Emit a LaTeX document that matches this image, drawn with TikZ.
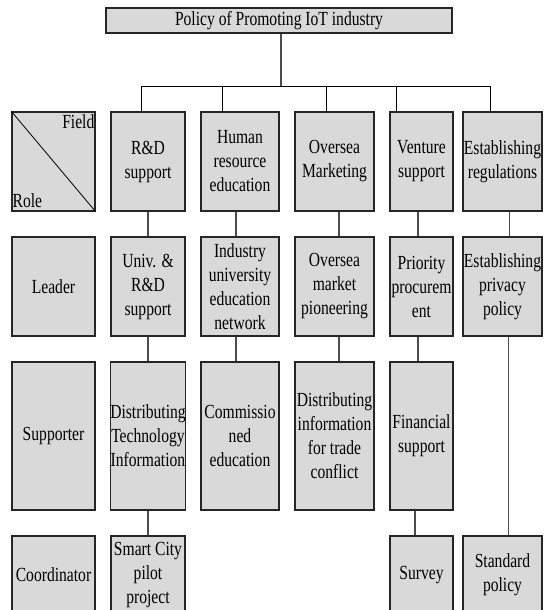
\documentclass[tikz,border=0pt]{standalone}
\usepackage{fontspec}
\setmainfont[FakeStretch=0.78]{Liberation Serif}
\begin{document}
\begin{tikzpicture}[x=1pt,y=-1pt,
  box/.style={draw=black!85, line width=1.1pt, fill=boxgray, inner sep=0pt, align=center,
    font=\fontsize{20}{24}\selectfont},
  bus/.style={draw=black, line width=0.8pt},
  link/.style={draw=black!70, line width=1.3pt},
  lbl/.style={inner sep=0pt, font=\fontsize{20}{24}\selectfont}]
\definecolor{boxgray}{RGB}{217,217,217}
\useasboundingbox (0,0) rectangle (548,610);
\clip (0,0) rectangle (548,610);
% top
\node[box, minimum width=346pt, minimum height=25pt] (top) at (279,20.5) {Policy of Promoting IoT industry};
% row 1 (y 112-211)
\node[box, minimum width=83pt, minimum height=99pt] (role) at (53.5,161.5) {};
\node[box, minimum width=74pt, minimum height=99pt] (r1a) at (148,161.5) {R\&D\\support};
\node[box, minimum width=78pt, minimum height=99pt] (r1b) at (240,161.5) {Human\\resource\\education};
\node[box, minimum width=79pt, minimum height=99pt] (r1c) at (334.5,161.5) {Oversea\\Marketing};
\node[box, minimum width=63pt, minimum height=99pt] (r1d) at (421.5,161.5) {Venture\\support};
\node[box, minimum width=79pt, minimum height=99pt] (r1e) at (502.5,161.5) {Establishing\\regulations};
\draw[line width=0.8pt] (role.north west) -- (role.south east);
\node[lbl, anchor=north east] (field) at ([xshift=-1pt,yshift=-3pt]role.north east) {Field};
\node[lbl, anchor=south west] (rolet) at ([xshift=1pt,yshift=4pt]role.south west) {Role};
% row 2 (y 237-336)
\node[box, minimum width=83pt, minimum height=99pt] (lead) at (53.5,286.5) {Leader};
\node[box, minimum width=74pt, minimum height=99pt] (r2a) at (148,286.5) {Univ. \&\\R\&D\\support};
\node[box, minimum width=78pt, minimum height=99pt] (r2b) at (240,286.5) {Industry\\university\\education\\network};
\node[box, minimum width=79pt, minimum height=99pt] (r2c) at (334.5,286.5) {Oversea\\market\\pioneering};
\node[box, minimum width=63pt, minimum height=99pt] (r2d) at (421.5,286.5) {Priority\\procurem\\ent};
\node[box, minimum width=79pt, minimum height=99pt] (r2e) at (502.5,286.5) {Establishing\\privacy\\policy};
% row 3 (y 362-510)
\node[box, minimum width=83pt, minimum height=148pt] (supp) at (53.5,436) {Supporter};
\node[box, minimum width=74pt, minimum height=148pt] (r3a) at (148,436) {Distributing\\Technology\\Information};
\node[box, minimum width=78pt, minimum height=148pt] (r3b) at (240,436) {Commissio\\ned\\education};
\node[box, minimum width=79pt, minimum height=148pt] (r3c) at (334.5,436) {Distributing\\information\\for trade\\conflict};
\node[box, minimum width=63pt, minimum height=148pt] (r3d) at (421.5,436) {Financial\\support};
% row 4 (y 536-)
\node[box, minimum width=83pt, minimum height=78pt] (coord) at (53.5,575) {Coordinator};
\node[box, minimum width=74pt, minimum height=78pt] (r4a) at (148,575) {Smart City\\pilot\\project};
\node[box, minimum width=63pt, minimum height=78pt] (r4d) at (421.5,575) {Survey};
\node[box, minimum width=79pt, minimum height=78pt] (r4e) at (502.5,575) {Standard\\policy};
% tree from top
\coordinate (hub) at (281,86);
\coordinate (b1) at (141,86);
\coordinate (b2) at (222,86);
\coordinate (b3) at (326,86);
\coordinate (b4) at (396,86);
\coordinate (b5) at (490,86);
\draw[link] (top.south -| hub) -- (hub);
\draw[bus] (b1) -- (b5);
\draw[bus] (b1) -- (b1 |- r1a.north);
\draw[bus] (b2) -- (b2 |- r1b.north);
\draw[bus] (b3) -- (b3 |- r1c.north);
\draw[bus] (b4) -- (b4 |- r1d.north);
\draw[bus] (b5) -- (b5 |- r1e.north);
% vertical links between rows
\draw[link] (r1a.south) -- (r2a.north);
\draw[link] ([xshift=-4pt]r1b.south) -- ([xshift=-4pt]r2b.north);
\draw[link] ([xshift=4.5pt]r1c.south) -- ([xshift=4.5pt]r2c.north);
\draw[link] ([xshift=-3.5pt]r1d.south) -- ([xshift=-3.5pt]r2d.north);
\draw[link] ([xshift=7pt]r1e.south) -- ([xshift=7pt]r2e.north);
\draw[link] (r2a.south) -- (r3a.north);
\draw[link] ([xshift=-4pt]r2b.south) -- ([xshift=-4pt]r3b.north);
\draw[link] ([xshift=4.5pt]r2c.south) -- ([xshift=4.5pt]r3c.north);
\draw[link] ([xshift=-3.5pt]r2d.south) -- ([xshift=-3.5pt]r3d.north);
\draw[link] ([xshift=6pt]r2e.south) -- ([xshift=6pt]r4e.north);
\draw[link] (r3a.south) -- (r4a.north);
\draw[link] ([xshift=-6.5pt]r3d.south) -- ([xshift=-6.5pt]r4d.north);
\end{tikzpicture}
\end{document}
